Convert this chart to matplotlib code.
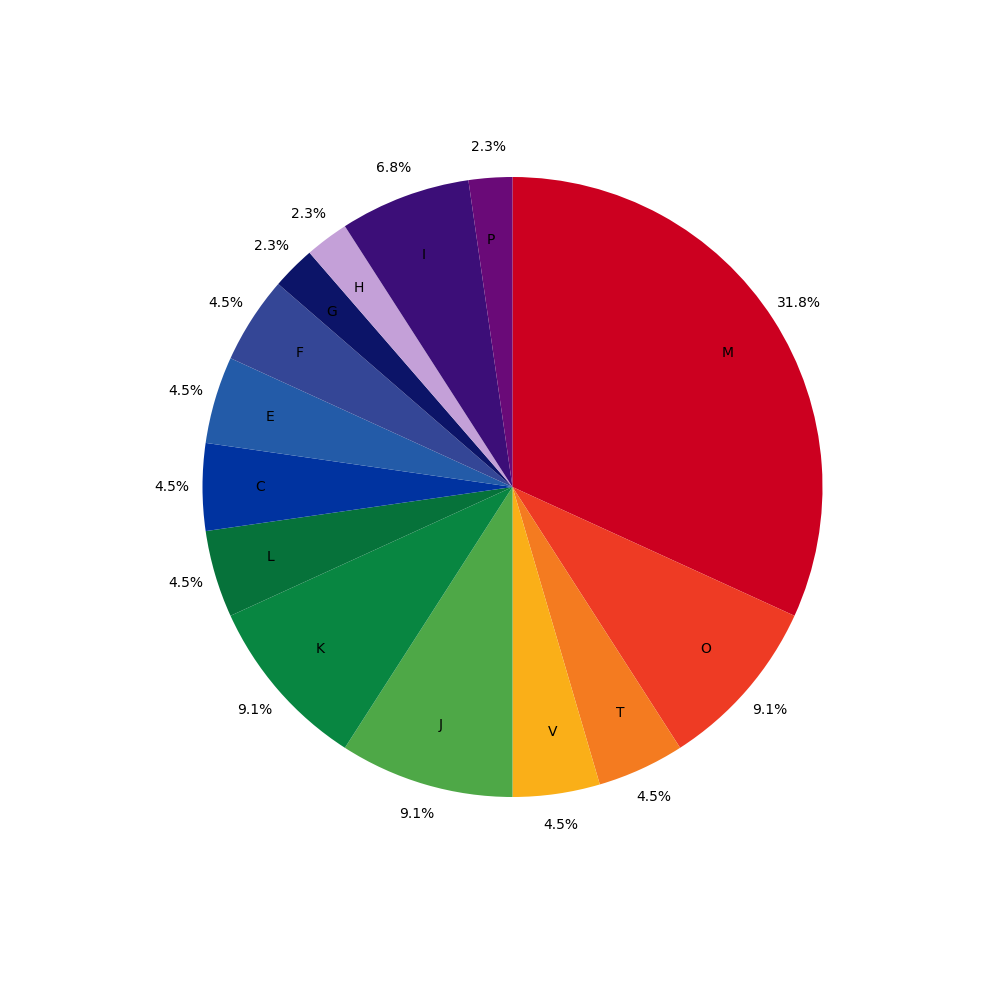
import matplotlib
matplotlib.use('Agg')
import matplotlib.pyplot as plt

# Kategorie a hodnoty (počty)
labels = ['M', 'O', 'T', 'V', 'J', 'K', 'L', 'C', 'E', 'F', 'G', 'H', 'I', 'P']
values = [14, 4, 2, 2, 4, 4, 2, 2, 2, 2, 1, 1, 3, 1]
colors = ['#CC0020', '#EE3B24', '#F47B20', '#FAAF18', '#4EA847', '#088641',
          '#06723A', '#0033A0', '#235BA8', '#344696', '#0C1468', '#C4A0D8',
          '#3C0E78', '#6A0A78']

fig = plt.figure(figsize=(10, 10), dpi=100)
ax = fig.add_axes([0.125, 0.1255, 0.775, 0.775])
ax.pie(values, labels=labels, colors=colors, autopct='%1.1f%%',
       startangle=90, counterclock=False, labeldistance=0.8, pctdistance=1.1)

plt.savefig('out.png')
